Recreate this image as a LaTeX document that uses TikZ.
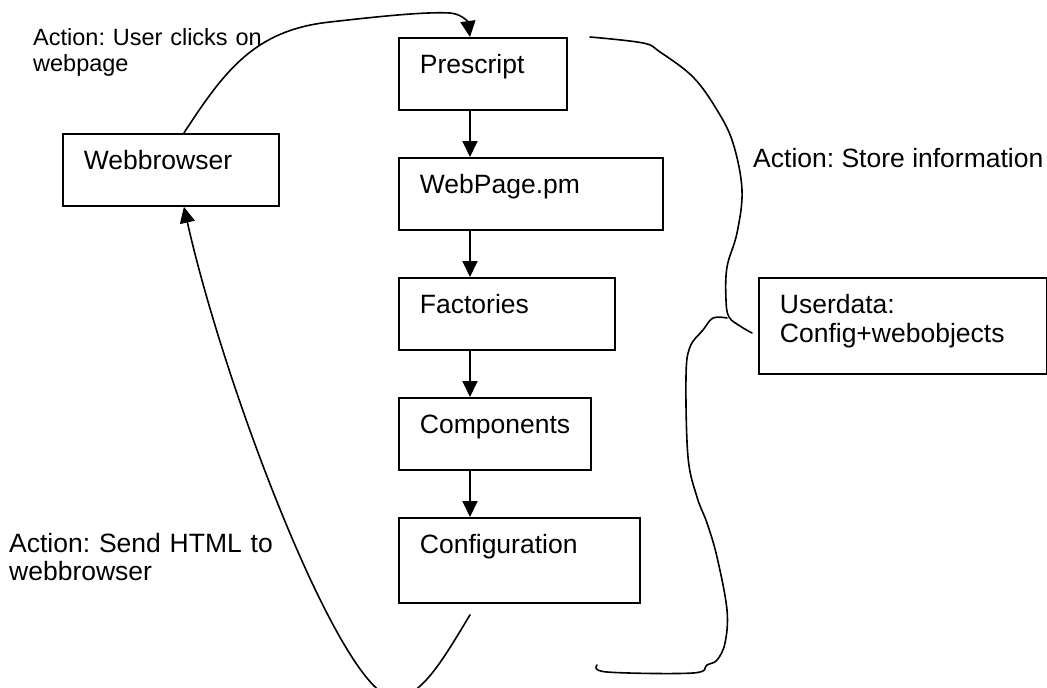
\documentclass[tikz,border=0pt]{standalone}
\usepackage{fontspec}
\setmainfont{Liberation Sans}
\usetikzlibrary{arrows.meta,calc}
\newcommand\ind{\hspace*{21pt}}
\begin{document}
\begin{tikzpicture}[x=1pt,y=-1pt,
  box/.style={draw, line width=1.8pt, inner sep=0pt, anchor=north west, align=left,
    text height=36pt, font=\fontsize{26.5}{29}\selectfont\frenchspacing},
  lbl/.style={inner sep=0pt, anchor=base west, align=left, font=\fontsize{26.5}{28}\selectfont\frenchspacing},
  tip/.style={-{Triangle[length=16pt,width=15pt]}},
  flow/.style={line width=1.8pt, tip},
  hand/.style={line width=1.6pt, line cap=round, line join=round},
]
\fill[white] (0,0) rectangle (1047,688);
\useasboundingbox (0,0) rectangle (1047,688);
\clip (0,0) rectangle (1047,688);

% boxes
\node[box, text width=216pt, text depth=36pt] (wb)   at (62,133)  {\ind Webbrowser};
\node[box, text width=168pt, text depth=36pt] (pre)  at (398,37)  {\ind Prescript};
\node[box, text width=264pt, text depth=36pt] (wp)   at (398,157) {\ind WebPage.pm};
\node[box, text width=216pt, text depth=36pt] (fac)  at (398,277) {\ind Factories};
\node[box, text width=192pt, text depth=36pt] (comp) at (398,397) {\ind Components};
\node[box, text width=241pt, text depth=49pt] (conf) at (398,517) {\ind Configuration};
\node[box, text width=288pt, text depth=60pt] (ud)   at (758,277) {\ind Userdata:\\\ind Config+webobjects};

% labels
\node[lbl, text width=320pt, font=\fontsize{23.5}{27}\selectfont\frenchspacing] (l1) at (33,45) {Action: User clicks on\\webpage};
\node[lbl] (l2) at (753,167) {Action: Store information};
\node[lbl, text width=320pt] (l3) at (9,552) {Action: Send HTML to\\webbrowser};

% vertical flow arrows
\draw[flow] ($(pre.south west)+(72,0)$)  -- ($(wp.north west)+(72,0)$);
\draw[flow] ($(wp.south west)+(72,0)$)   -- ($(fac.north west)+(72,0)$);
\draw[flow] ($(fac.south west)+(72,0)$)  -- ($(comp.north west)+(72,0)$);
\draw[flow] ($(comp.south west)+(72,0)$) -- ($(conf.north west)+(72,0)$);

% user click curve
\coordinate (wbtop) at ([xshift=13pt]wb.north);
\coordinate (prein) at ($(pre.north west)+(72,0)$);
\draw[hand, tip] (wbtop) .. controls (225,70) and (255,30) .. (330,22)
   .. controls (400,14) and (430,12) .. (450,13)
   .. controls (462,14) and (468,22) .. (prein);

% send HTML curve
\coordinate (confout) at ($(conf.south west)+(72,11)$);
\coordinate (wbbot) at ([xshift=13pt]wb.south);
\draw[hand, tip] (confout) .. controls (440,665) and (420,698) .. (393,698)
   .. controls (340,690) and (225,390) .. (wbbot);

% store information brace
\draw[hand] plot[smooth, tension=0.6] coordinates {
  (590,37) (643,43) (660,52) (693,77) (717,110) (733,143) (742,190)
  (737,233) (727,267) (726,300) (729,317) (740,326) (752,333)};
\draw[hand] plot[smooth, tension=0.6] coordinates {
  (727,318) (713,318) (703,330) (690,347) (686,377) (688,457) (697,497)
  (707,523) (717,557) (727,610) (725,643) (717,660) (707,665) (693,673)
  (607,672) (597,665)};
\end{tikzpicture}
\end{document}
